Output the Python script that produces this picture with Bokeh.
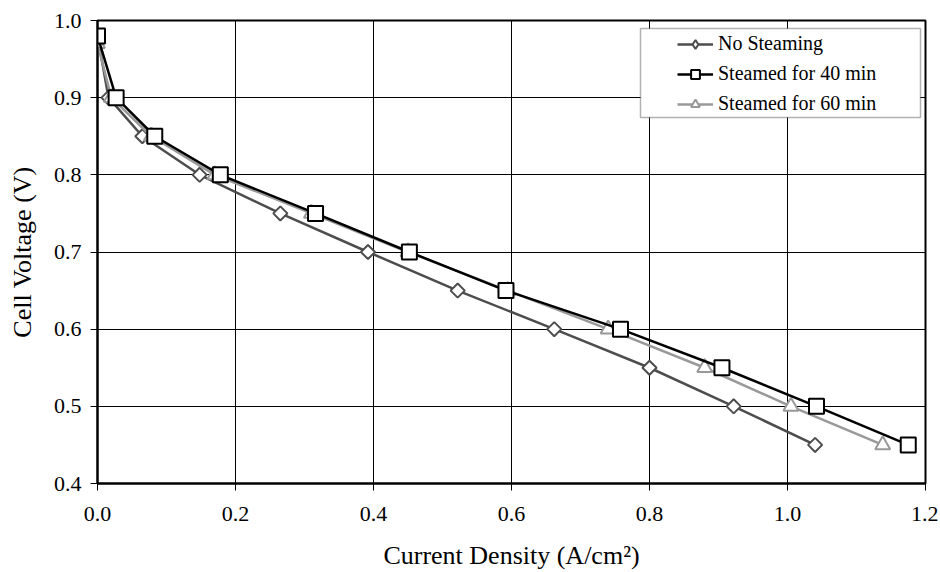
import math
from bokeh.plotting import figure
from bokeh.models import (FixedTicker, PrintfTickFormatter, Legend, LegendItem,
                          BoxAnnotation, Range1d)
from bokeh.embed import file_html
from bokeh.resources import INLINE

# Data
no_steam_x = [0.0, 0.016, 0.065, 0.148, 0.265, 0.392, 0.522, 0.662, 0.800, 0.922, 1.040]
no_steam_y = [0.98, 0.90, 0.85, 0.80, 0.75, 0.70, 0.65, 0.60, 0.55, 0.50, 0.45]
steam40_x = [0.0, 0.027, 0.083, 0.178, 0.316, 0.452, 0.592, 0.758, 0.905, 1.042, 1.175]
steam40_y = [0.98, 0.90, 0.85, 0.80, 0.75, 0.70, 0.65, 0.60, 0.55, 0.50, 0.45]
steam60_x = [0.0, 0.020, 0.078, 0.170, 0.310, 0.450, 0.595, 0.740, 0.880, 1.005, 1.138]
steam60_y = [0.97, 0.90, 0.85, 0.80, 0.75, 0.70, 0.65, 0.60, 0.55, 0.50, 0.45]
x_ticks = [0.0, 0.2, 0.4, 0.6, 0.8, 1.0, 1.2]
y_ticks = [0.4, 0.5, 0.6, 0.7, 0.8, 0.9, 1.0]

FONT = "Liberation Serif"

p = figure(width=938, height=572, output_backend="svg", toolbar_location=None,
           x_range=Range1d(0, 1.2), y_range=Range1d(0.4, 1.0),
           min_border_left=97, min_border_right=13, min_border_top=20, min_border_bottom=89)
p.outline_line_color = "black"
p.outline_line_width = 2
p.background_fill_color = "white"
p.border_fill_color = "white"

for ax, ticks in ((p.xaxis, x_ticks), (p.yaxis, y_ticks)):
    ax.ticker = FixedTicker(ticks=ticks)
    ax.formatter = PrintfTickFormatter(format="%.1f")
    ax.minor_tick_line_color = None
    ax.major_tick_in = 0
    ax.major_tick_out = 7
    ax.major_tick_line_color = "black"
    ax.axis_line_color = "black"
    ax.axis_line_width = 2
    ax.major_label_text_font = FONT
    ax.major_label_text_font_size = "22px"
    ax.major_label_text_color = "black"
    ax.axis_label_text_font = FONT
    ax.axis_label_text_font_size = "26px"
    ax.axis_label_text_font_style = "normal"
    ax.axis_label_text_color = "black"

p.xaxis.axis_label = "Current Density (A/cm²)"
p.yaxis.axis_label = "Cell Voltage (V)"
p.xaxis.major_label_standoff = 16
p.xaxis.axis_label_standoff = 17
p.yaxis.major_label_standoff = 9
p.yaxis.axis_label_standoff = 14

p.xgrid.ticker = FixedTicker(ticks=x_ticks)
p.ygrid.ticker = FixedTicker(ticks=y_ticks)
p.grid.grid_line_color = "black"
p.grid.grid_line_width = 1
p.grid.grid_line_alpha = 1

c1, c2, c3 = "#4d4d4d", "#000000", "#999999"

l1 = p.line(no_steam_x, no_steam_y, line_color=c1, line_width=2.5)
m1 = p.scatter(no_steam_x, no_steam_y, marker="square", angle=math.pi / 4, size=10,
               line_color=c1, fill_color="white", line_width=2)
# legend swatch for the diamond (legend glyphs ignore marker angle); sits under the first square
m1_leg = p.scatter(no_steam_x[:1], no_steam_y[:1], marker="diamond", size=17, line_color=c1,
                   fill_color="white", line_width=2)
l3 = p.line(steam60_x, steam60_y, line_color=c3, line_width=2.5)
m3 = p.scatter(steam60_x, steam60_y, marker="triangle", size=15, line_color=c3,
               fill_color="white", line_width=2)
l2 = p.line(steam40_x, steam40_y, line_color=c2, line_width=2.5)
m2 = p.scatter(steam40_x, steam40_y, marker="square", size=15, line_color=c2,
               fill_color="white", line_width=2)

box = BoxAnnotation(left=640, right=920, top=28, bottom=117,
                    left_units="canvas", right_units="canvas",
                    top_units="canvas", bottom_units="canvas",
                    fill_color="white", fill_alpha=1, line_color="black", line_width=1.5,
                    level="overlay")
p.add_layout(box)

legend = Legend(items=[
    LegendItem(label="No Steaming", renderers=[l1, m1_leg]),
    LegendItem(label="Steamed for 40 min", renderers=[l2, m2]),
    LegendItem(label="Steamed for 60 min", renderers=[l3, m3]),
], location=(576, 364))
legend.border_line_alpha = 0
legend.background_fill_alpha = 0
legend.label_text_font = FONT
legend.label_text_font_size = "20px"
legend.label_text_color = "black"
legend.glyph_width = 36
legend.glyph_height = 22
legend.label_height = 22
legend.spacing = 7
legend.padding = 4
legend.label_standoff = 5
p.add_layout(legend)

open("out.html", "w").write(file_html(p, INLINE))
